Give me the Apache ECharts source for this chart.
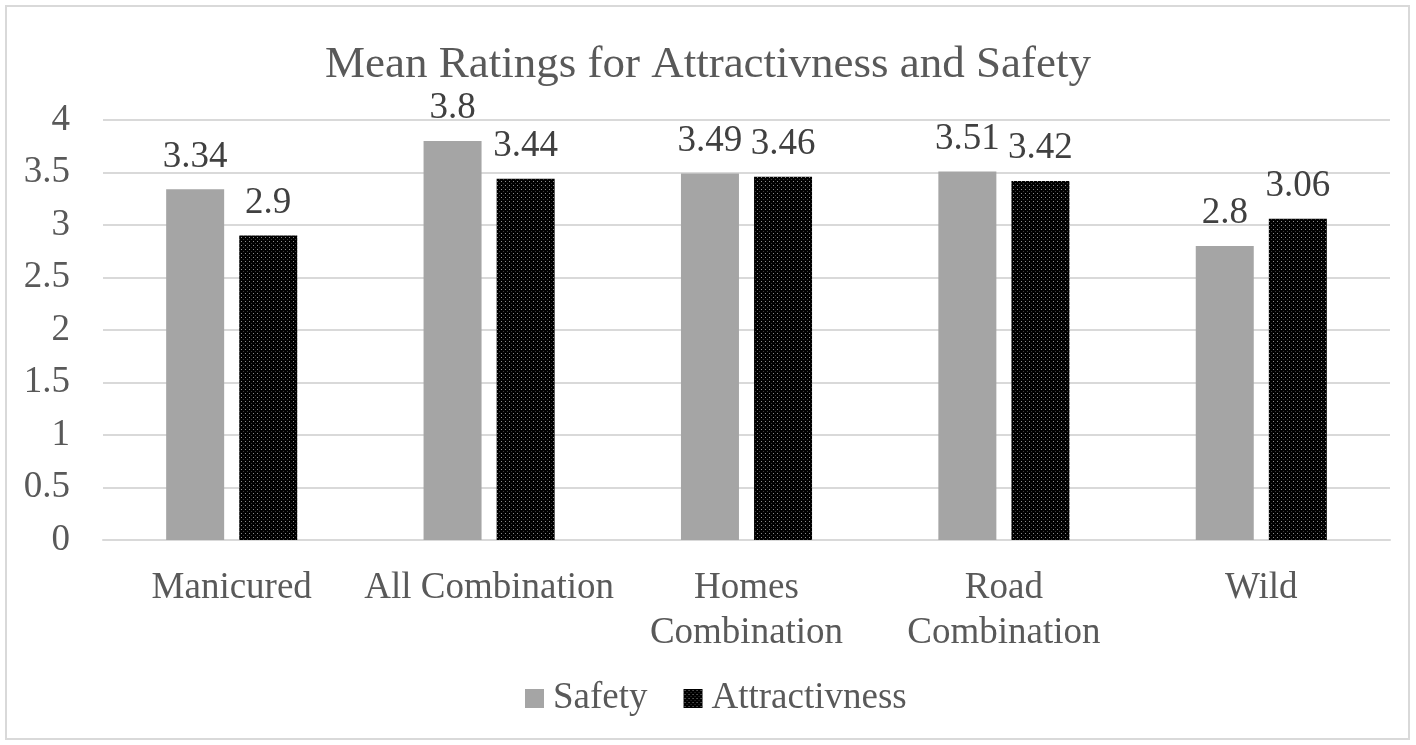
<!DOCTYPE html>
<html>
<head>
<meta charset="utf-8">
<script src="https://cdn.jsdelivr.net/npm/echarts@6/dist/echarts.min.js"></script>
<style>
  html, body { margin: 0; padding: 0; background: #fff; }
  #chart { width: 1416px; height: 745px; }
</style>
</head>
<body>
<div id="chart"></div>
<script>
const categories = ['Manicured', 'All Combination', 'Homes\nCombination', 'Road\nCombination', 'Wild'];
const safety = [3.34, 3.8, 3.49, 3.51, 2.8];
const attractiveness = [2.9, 3.44, 3.46, 3.42, 3.06];
const yTicks = [0, 0.5, 1, 1.5, 2, 2.5, 3, 3.5, 4];

// Small dotted tile for the dark series fill
function dottedTile() {
  const c = document.createElement('canvas');
  c.width = 4; c.height = 4;
  const g = c.getContext('2d');
  g.fillStyle = '#000';
  g.fillRect(0, 0, 4, 4);
  g.fillStyle = '#8c8c8c';
  g.fillRect(1, 1, 1, 1);
  g.fillStyle = '#3a3a3a';
  g.fillRect(3, 3, 1, 1);
  return c;
}
const darkFill = { image: dottedTile(), repeat: 'repeat' };

const font = 'Liberation Serif, Times New Roman, serif';
const labelSize = 37;
const chart = echarts.init(document.getElementById('chart'));
chart.setOption({
  animation: false,
  textStyle: { fontFamily: font },
  graphic: [{
    type: 'rect',
    shape: { x: 6, y: 6, width: 1403, height: 733 },
    style: { fill: 'none', stroke: '#d9d9d9', lineWidth: 2 },
    silent: true
  }],
  title: {
    text: 'Mean Ratings for Attractivness and Safety',
    left: 'center',
    top: 38,
    textStyle: { fontFamily: font, fontSize: 45, fontWeight: 'normal', color: '#595959' }
  },
  legend: {
    bottom: 23,
    left: 520,
    itemWidth: 19,
    itemHeight: 19,
    itemGap: 36,
    icon: 'rect',
    textStyle: { fontFamily: font, fontSize: labelSize, color: '#595959', padding: [0, 0, 0, 4] },
    data: ['Safety', 'Attractivness']
  },
  grid: { left: 103, right: 26, top: 120, bottom: 205 },
  xAxis: {
    type: 'category',
    data: categories,
    axisTick: { show: false },
    axisLine: { lineStyle: { color: '#d9d9d9', width: 2 } },
    axisLabel: { fontFamily: font, fontSize: labelSize, color: '#595959', margin: 26, lineHeight: 45, interval: 0 }
  },
  yAxis: {
    type: 'value',
    min: 0,
    max: 4,
    interval: 0.5,
    axisLine: { show: false },
    axisTick: { show: false },
    splitLine: { lineStyle: { color: '#d9d9d9', width: 2 } },
    axisLabel: {
      fontFamily: font, fontSize: labelSize, color: '#595959', margin: 33,
      formatter: v => (yTicks.includes(v) ? String(v) : '')
    }
  },
  series: [
    {
      name: 'Safety',
      type: 'bar',
      data: safety,
      barWidth: 58,
      barGap: '26%',
      itemStyle: { color: '#a5a5a5' },
      label: { show: true, position: 'top', distance: 14, fontFamily: font, fontSize: labelSize, color: '#404040' }
    },
    {
      name: 'Attractivness',
      type: 'bar',
      data: attractiveness,
      barWidth: 58,
      itemStyle: { color: darkFill },
      label: { show: true, position: 'top', distance: 14, fontFamily: font, fontSize: labelSize, color: '#404040' }
    }
  ]
});
</script>
</body>
</html>
